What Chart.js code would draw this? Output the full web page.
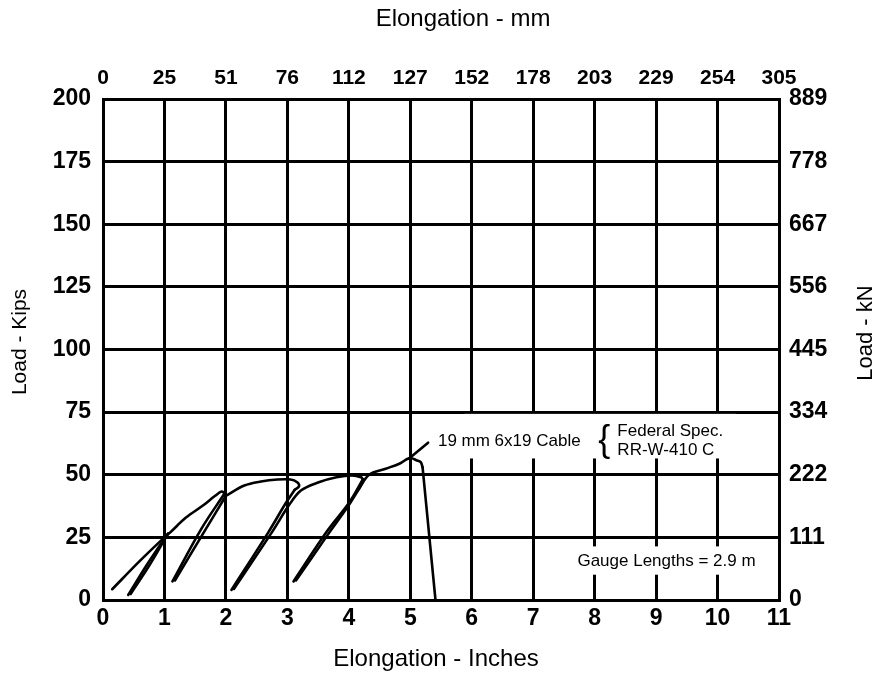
<!DOCTYPE html>
<html>
<head>
<meta charset="utf-8">
<script src="https://cdn.jsdelivr.net/npm/chart.js@4.4.0/dist/chart.umd.min.js"></script>
<style>
html, body { margin: 0; padding: 0; background: #fff; }
</style>
</head>
<body>
<canvas id="grafico" width="881" height="675"></canvas>
<script>
var pulgadas = [0, 1, 2, 3, 4, 5, 6, 7, 8, 9, 10, 11];
var etiquetasMm = ["0", "25", "51", "76", "112", "127", "152", "178", "203", "229", "254", "305"];
var kips = [0, 25, 50, 75, 100, 125, 150, 175, 200];
var etiquetasKN = ["0", "111", "222", "334", "445", "556", "667", "778", "889"];

// tramos de la curva carga-alargamiento [pulgadas, kips]
var carga1 = [[0.15, 4.3], [0.6, 15.6], [1.0, 25], [1.09, 26.9], [1.35, 32.9], [1.62, 37.6], [1.83, 41.7], [1.93, 43.3], [1.98, 42.6]];
var descarga1 = [[1.05, 26.3], [0.72, 14.3], [0.41, 2]];
var recarga1 = [[0.45, 2.4], [0.76, 14], [1.06, 26.6]];
var descarga2 = [[1.98, 42.6], [1.6, 28.4], [1.13, 7.4]];
var recarga2 = [[1.17, 7.8], [1.65, 27.4], [2.0, 41.6]];
var carga2 = [[2.0, 41.6], [2.3, 45.7], [2.57, 47.3], [2.84, 48.1], [3.05, 48.1], [3.16, 47], [3.19, 45.4], [3.12, 44]];
var descarga3 = [[3.12, 44], [2.97, 38.5], [2.69, 27], [2.09, 4]];
var carga3 = [[2.13, 4.4], [2.75, 27.1], [3.02, 37.6], [3.22, 43.7], [3.51, 47], [3.8, 49], [4.05, 49.7], [4.2, 49], [4.23, 48.2]];
var descarga4 = [[4.23, 48.2], [4.01, 39], [3.65, 27.6], [3.1, 7.4]];
var carga4 = [[3.14, 7.8], [3.65, 25.8], [3.99, 37.5], [4.15, 43.7], [4.33, 50], [4.6, 52.4], [4.83, 54.5], [4.95, 56.3], [5.02, 56.6], [5.1, 55.8], [5.17, 55], [5.2, 53]];
var rotura = [[5.2, 53], [5.41, 0]];
var guia = [[4.98, 56.5], [5.29, 62.8]];

var tramos = [carga1, descarga1, recarga1, descarga2, recarga2, carga2, descarga3, carga3, descarga4, carga4];
var rectos = [rotura, guia];

var letra = "Arial, 'Liberation Sans', Helvetica, sans-serif";

function serie(puntos, curva) {
    return {
        data: puntos.map(function (p) { return { x: p[0], y: p[1] }; }),
        borderColor: '#000',
        borderWidth: 2.6,
        pointRadius: 0,
        fill: false,
        tension: curva ? 0.35 : 0,
        borderCapStyle: 'round',
        borderJoinStyle: 'round'
    };
}

var conjuntos = tramos.map(function (t) { return serie(t, true); })
    .concat(rectos.map(function (t) { return serie(t, false); }));

// cajas blancas bajo los textos, en unidades de los ejes
var cajas = [
    { x0: 5.88, x1: 10.3, y0: 56.5, y1: 74.3 },
    { x0: 7.65, x1: 10.6, y0: 10.1, y1: 21.4 }
];

var notas = {
    id: 'notas',
    beforeDatasetsDraw: function (chart) {
        var ctx = chart.ctx;
        var sx = chart.scales.x;
        var sy = chart.scales.y;
        ctx.save();
        ctx.fillStyle = '#fff';
        cajas.forEach(function (c) {
            var l = sx.getPixelForValue(c.x0), r = sx.getPixelForValue(c.x1);
            var t = sy.getPixelForValue(c.y1), b = sy.getPixelForValue(c.y0);
            ctx.fillRect(l, t, r - l, b - t);
        });

        ctx.fillStyle = '#000';
        ctx.textBaseline = 'middle';
        ctx.textAlign = 'left';
        ctx.font = '17px ' + letra;
        ctx.fillText('19 mm 6x19 Cable', sx.getPixelForValue(5.45), sy.getPixelForValue(63.5));
        ctx.fillText('Federal Spec.', sx.getPixelForValue(8.37), sy.getPixelForValue(67.5));
        ctx.fillText('RR-W-410 C', sx.getPixelForValue(8.37), sy.getPixelForValue(59.9));
        ctx.fillText('Gauge Lengths = 2.9 m', sx.getPixelForValue(7.72), sy.getPixelForValue(15.3));
        ctx.font = '36px ' + letra;
        ctx.fillText('{', sx.getPixelForValue(8.06), sy.getPixelForValue(63.6));
        ctx.restore();
    },
    afterDraw: function (chart) {
        var ctx = chart.ctx;
        ctx.save();
        ctx.fillStyle = '#000';
        ctx.textAlign = 'center';
        ctx.textBaseline = 'middle';
        ctx.font = '24px ' + letra;
        ctx.fillText('Elongation - mm', 463, 19);
        ctx.fillText('Elongation - Inches', 436, 659);
        ctx.font = '21px ' + letra;
        ctx.translate(20, 342);
        ctx.rotate(-Math.PI / 2);
        ctx.fillText('Load - Kips', 0, 0);
        ctx.restore();
        ctx.save();
        ctx.fillStyle = '#000';
        ctx.textAlign = 'center';
        ctx.textBaseline = 'middle';
        ctx.font = '22px ' + letra;
        ctx.translate(866, 333);
        ctx.rotate(-Math.PI / 2);
        ctx.fillText('Load - kN', 0, 0);
        ctx.restore();
    }
};

var rejilla = { color: '#000', lineWidth: 3, drawTicks: false };
var borde = { color: '#000', width: 3 };
var fuente = { family: letra, size: 23, weight: 'bold' };

var grafico = new Chart(document.getElementById('grafico'), {
    type: 'line',
    data: { datasets: conjuntos },
    options: {
        responsive: false,
        animation: false,
        layout: { padding: 0 },
        plugins: { legend: { display: false }, tooltip: { enabled: false } },
        scales: {
            x: {
                type: 'linear', position: 'bottom', min: 0, max: 11,
                afterFit: function (s) { s.height = 75; },
                afterBuildTicks: function (s) { s.ticks = pulgadas.map(function (v) { return { value: v }; }); },
                ticks: { color: '#000', font: fuente, padding: 5, maxRotation: 0, autoSkip: false },
                grid: rejilla, border: borde
            },
            x2: {
                type: 'linear', position: 'top', min: 0, max: 11,
                afterFit: function (s) { s.height = 99; },
                afterBuildTicks: function (s) { s.ticks = pulgadas.map(function (v) { return { value: v }; }); },
                ticks: {
                    color: '#000', font: { family: letra, size: 21, weight: 'bold' }, padding: 8,
                    maxRotation: 0, autoSkip: false,
                    callback: function (v) { return etiquetasMm[pulgadas.indexOf(v)]; }
                },
                grid: { drawOnChartArea: false, drawTicks: false }, border: borde
            },
            y: {
                type: 'linear', position: 'left', min: 0, max: 200,
                afterFit: function (s) { s.width = 103; },
                afterBuildTicks: function (s) { s.ticks = kips.map(function (v) { return { value: v }; }); },
                ticks: { color: '#000', font: fuente, padding: 12, autoSkip: false },
                grid: rejilla, border: borde
            },
            y2: {
                type: 'linear', position: 'right', min: 0, max: 200,
                afterFit: function (s) { s.width = 102; },
                afterBuildTicks: function (s) { s.ticks = kips.map(function (v) { return { value: v }; }); },
                ticks: {
                    color: '#000', font: fuente, padding: 10, autoSkip: false,
                    callback: function (v) { return etiquetasKN[kips.indexOf(v)]; }
                },
                grid: { drawOnChartArea: false, drawTicks: false }, border: borde
            }
        }
    },
    plugins: [notas]
});
</script>
</body>
</html>
